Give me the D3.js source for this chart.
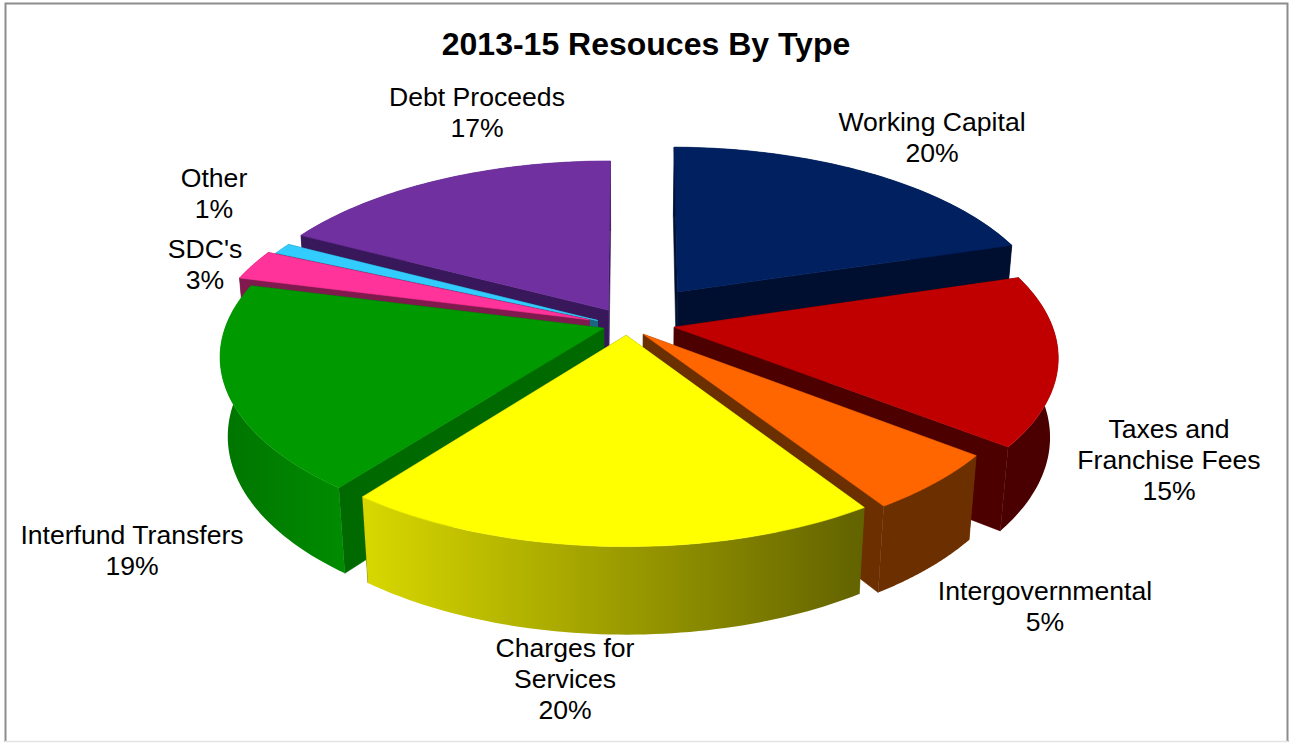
<!DOCTYPE html>
<html>
<head>
<meta charset="utf-8">
<script src="https://cdn.jsdelivr.net/npm/d3@7"></script>
<style>
html,body{margin:0;padding:0;background:#fff}
svg{display:block}
text{font-family:"Liberation Sans",Arial,sans-serif;fill:#000}
</style>
</head>
<body>
<svg id="chart" width="1289" height="743"></svg>
<script>
const categories = ["Working Capital","Taxes and Franchise Fees","Intergovernmental","Charges for Services","Interfund Transfers","SDC's","Other","Debt Proceeds"];
const shares = [20,15,5,20,19,3,1,17];

const labelLines = [["Working Capital"],["Taxes and","Franchise Fees"],["Intergovernmental"],["Charges for","Services"],["Interfund Transfers"],["SDC's"],["Other"],["Debt Proceeds"]];
const labelAnchors = [[932,131],[1169,438],[1045,600],[565,657],[132,544],[205,258],[214,187],[477,106]];

// Pull-out of each slice in the pie's plane, in radii (sideways, backwards)
const pullOut = [[0.143,0.148],[0.13,-0.058],[0.048,-0.098],[0.003,-0.104],[-0.056,-0.064],[-0.095,-0.016],[-0.073,-0.02],[-0.045,0.04]];
// Small view correction of the slice boundaries, in degrees
const edgeSkew = [0.6,1,2,3,1.5,0,-1,-1,0];
const topColors = ["#002060","#c00000","#ff6600","#ffff00","#009900","#ff3399","#33ccff","#7030a0"];
const cutColors = ["#000f30","#4d0000","#6b2f00","#666600","#006a00","#80194d","#1a6680","#38185a"];
const wallColors = [["#000f30","#000f30"],["#4a0000","#4a0000"],["#6b2f00","#6b2f00"],["#d8d800","#626200"],["#007400","#008c00"],["#80194d","#80194d"],["#1a6680","#1a6680"],["#38185a","#38185a"]];
const drawOrder = [0,7,6,5,1,2,4,3];

// Camera of the 3-D pie
const cam = {cx:625, cy:317, f:2217, dist:5.91, sin:0.4625, cos:0.887, depth:0.2386};

function project(X, Y, Z){
  const v = Y*cam.sin + Z*cam.cos;
  const w = cam.dist + Y*cam.cos - Z*cam.sin;
  return [cam.cx + cam.f*X/w, cam.cy - cam.f*v/w];
}

const svg = d3.select("#chart");
const defs = svg.append("defs");
const line = d3.line().curve(d3.curveLinear);

// Frame around the chart area; the lower edge is much fainter
svg.append("path").attr("d","M5.5,742V3.5H1287.5V742").attr("fill","none")
   .attr("stroke","#8c8c8c").attr("stroke-width",2);
svg.append("line").attr("x1",5).attr("x2",1288).attr("y1",741.5).attr("y2",741.5)
   .attr("stroke","#e4e4e4").attr("stroke-width",1.5);

svg.append("text").attr("x",646).attr("y",55).attr("text-anchor","middle")
   .attr("font-size",32).attr("font-weight","bold").text("2013-15 Resouces By Type");

const pie = d3.pie().sort(null).startAngle(0).endAngle(2*Math.PI);
const slices = pie(shares);
const rad = d3.scaleLinear().domain([0,180]).range([0,Math.PI]);

function drawSlice(i){
  const s = slices[i];
  const a0 = s.startAngle + rad(edgeSkew[i]), a1 = s.endAngle + rad(edgeSkew[i+1]);
  const [ox,oy] = pullOut[i];
  const steps = d3.range(0, 61).map(k => a0 + (a1-a0)*k/60);
  const pt = (r,a,z) => project(ox + r*Math.sin(a), oy + r*Math.cos(a), z);
  const h = -cam.depth;
  const g = svg.append("g").attr("class","slice").attr("data-name",categories[i]);

  const face = (pts, fill) => g.append("path").attr("d", line(pts)+"Z").attr("fill",fill)
     .attr("stroke",fill).attr("stroke-width",0.6).attr("stroke-linejoin","round");

  face([pt(0,0,0),pt(1,a0,0),pt(1,a0,h),pt(0,0,h)], cutColors[i]);
  face([pt(0,0,0),pt(1,a1,0),pt(1,a1,h),pt(0,0,h)], cutColors[i]);

  const topArc = steps.map(a=>pt(1,a,0));
  const botArc = steps.map(a=>pt(1,a,h)).reverse();
  const xs = topArc.concat(botArc).map(p=>p[0]);
  const grad = defs.append("linearGradient").attr("id","wall"+i).attr("gradientUnits","userSpaceOnUse")
     .attr("x1",d3.min(xs)).attr("x2",d3.max(xs)).attr("y1",0).attr("y2",0);
  grad.append("stop").attr("offset",0).attr("stop-color",wallColors[i][0]);
  grad.append("stop").attr("offset",1).attr("stop-color",wallColors[i][1]);
  face(topArc.concat(botArc), "url(#wall"+i+")").attr("stroke","none");

  face([pt(0,0,0)].concat(topArc), topColors[i]);
}
drawOrder.forEach(drawSlice);

// Category name and percentage beside each slice
labelLines.forEach((lines,i)=>{
  const t = svg.append("text").attr("text-anchor","middle").attr("font-size",26.6);
  lines.concat([shares[i]+"%"]).forEach((txt,k)=>{
    t.append("tspan").attr("x",labelAnchors[i][0]).attr("y",labelAnchors[i][1]+k*31).text(txt);
  });
});
</script>
</body>
</html>
